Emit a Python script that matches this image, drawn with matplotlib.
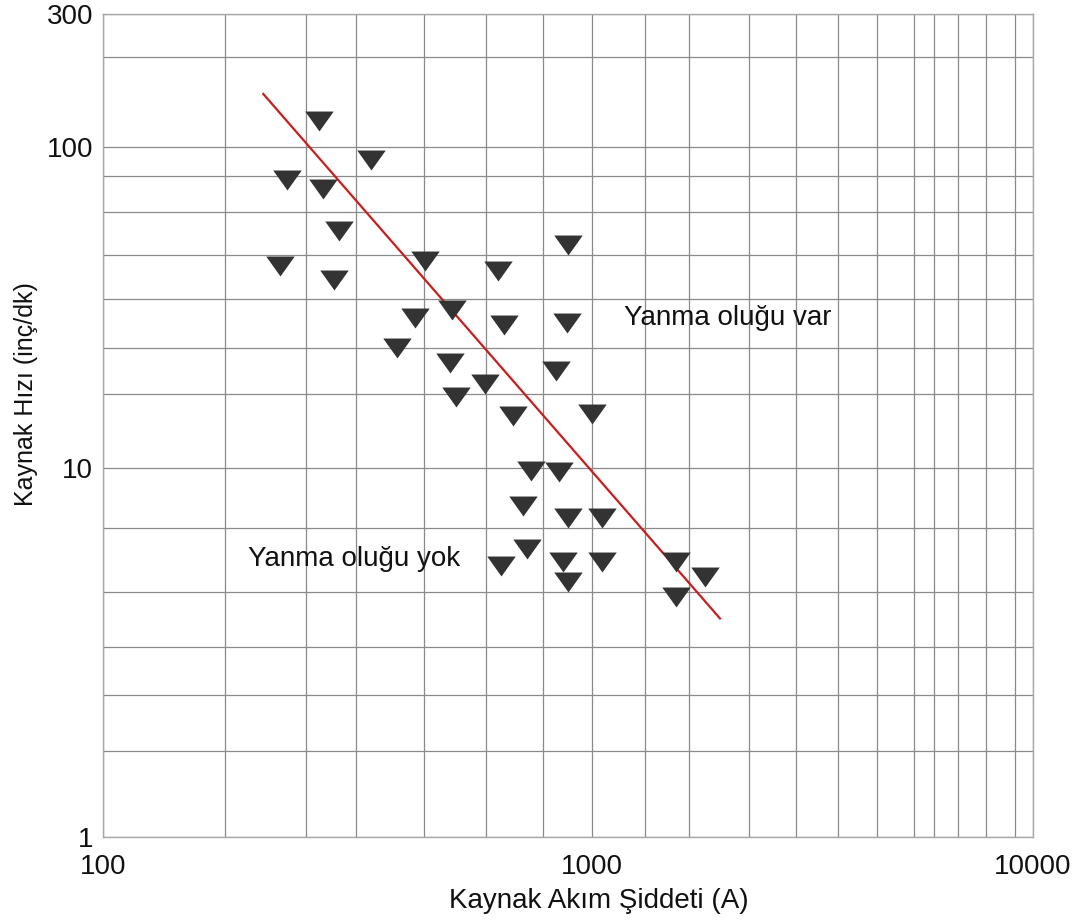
import numpy as np
import matplotlib
matplotlib.use("Agg")
import matplotlib.pyplot as plt
from matplotlib.ticker import FixedLocator, NullFormatter

plt.rcParams['font.family'] = ['Liberation Sans', 'DejaVu Sans']

# data
akim = [276, 354, 238, 282, 304, 893, 230, 455, 297, 642, 435, 518, 662, 890,
        399, 513, 604, 843, 528, 688, 1000, 749, 858, 724, 894, 1055, 737, 652,
        874, 894, 1055, 1550, 1801, 1550]
hiz = [123.8, 90.8, 78.8, 74.0, 54.8, 49.5, 42.5, 44.1, 38.6, 41.2, 29.3, 31.1,
       27.8, 28.3, 23.7, 21.2, 18.3, 20.0, 16.7, 14.5, 14.7, 9.83, 9.75, 7.90,
       7.31, 7.31, 6.04, 5.41, 5.57, 4.91, 5.57, 5.55, 5.07, 4.47]
sinir_x = [212.7, 1951]
sinir_y = [155.0, 3.91]

x_ticks = [100, 1000, 10000]
y_ticks = [1, 10, 100, 300]

# grid lines of the original (hand drawn, uneven spacing)
x_grid = [178, 260, 329, 453, 607, 794, 1319, 1660, 2270, 2902, 3613, 4429,
          5373, 5965, 6761, 7825, 9104]
y_grid = [1.71, 2.43, 3.27, 4.61, 6.88, 17.0, 23.7, 33.6, 46.1, 62.7, 81.2, 210.3]

# the original decades are not equally long, so use a piecewise log scale
xk = [2, 3, 4]
xp = [0, 489, 930]
yk = [0, 1, 2, np.log10(300)]
yp = [0, 369, 690, 823]


def fx(v):
    v = np.clip(np.asarray(v, dtype=float), 1e-12, None)
    return np.interp(np.log10(v), xk, xp)


def fx_inv(u):
    return 10 ** np.interp(u, xp, xk)


def fy(v):
    v = np.clip(np.asarray(v, dtype=float), 1e-12, None)
    return np.interp(np.log10(v), yk, yp)


def fy_inv(u):
    return 10 ** np.interp(u, yp, yk)


fig = plt.figure(figsize=(10.92, 9.24), dpi=100)
ax = fig.add_axes([103 / 1092, 87 / 924, 930 / 1092, 823 / 924])
ax.set_xscale('function', functions=(fx, fx_inv))
ax.set_yscale('function', functions=(fy, fy_inv))
ax.set_xlim(100, 10000)
ax.set_ylim(1, 300)

ax.xaxis.set_major_locator(FixedLocator(x_ticks))
ax.yaxis.set_major_locator(FixedLocator(y_ticks))
ax.set_xticklabels([str(t) for t in x_ticks])
ax.set_yticklabels([str(t) for t in y_ticks])
ax.xaxis.set_minor_locator(FixedLocator(x_grid))
ax.yaxis.set_minor_locator(FixedLocator(y_grid))
ax.xaxis.set_minor_formatter(NullFormatter())
ax.yaxis.set_minor_formatter(NullFormatter())
ax.tick_params(which='both', length=0, labelsize=20, colors='#111111')
ax.tick_params(axis='x', pad=12)
ax.tick_params(axis='y', pad=7)
ax.grid(True, which='both', color='#8a8a8a', linewidth=0.9)
ax.set_axisbelow(True)
for s in ax.spines.values():
    s.set_color('#a8a8a8')
    s.set_linewidth(1.0)

tri = [(-1, 0.7), (1, 0.7), (0, -0.7), (-1, 0.7)]
ax.plot(sinir_x, sinir_y, color='#c81e1e', linewidth=1.6, zorder=3)
ax.plot(akim, hiz, linestyle='none', marker=tri, markersize=20.5,
        color='#333333', markeredgewidth=0, zorder=4)

ax.text(1182, 29.3, 'Yanma oluğu var', fontsize=20, ha='left', va='center', color='#111111')
ax.text(198, 5.67, 'Yanma oluğu yok', fontsize=20, ha='left', va='center', color='#111111')

ax.set_xlabel('Kaynak Akım Şiddeti (A)', fontsize=20, color='#111111')
ax.set_ylabel('Kaynak Hızı (inç/dk)', fontsize=18, color='#111111')
ax.xaxis.set_label_coords(0.533, -0.062)
ax.yaxis.set_label_coords(-0.07, 0.538)

fig.savefig('out.png', dpi=100)
